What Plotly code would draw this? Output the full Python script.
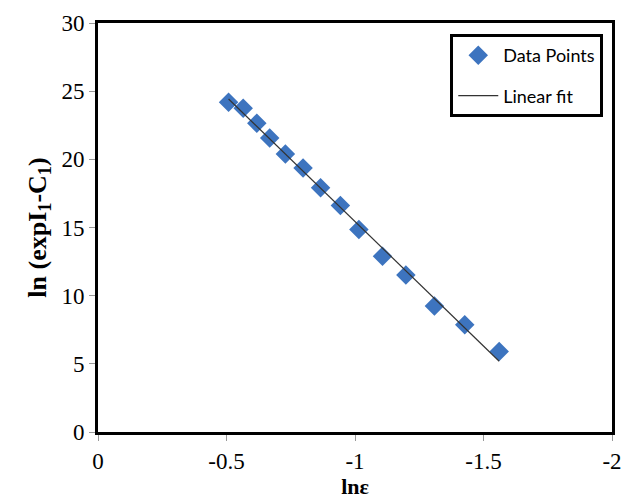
import numpy as np
import plotly.graph_objects as go

ln_eps = [-0.508, -0.565, -0.618, -0.668, -0.729, -0.798, -0.866, -0.943, -1.015, -1.107, -1.198, -1.309, -1.427, -1.561]
ln_val = [24.18, 23.74, 22.65, 21.56, 20.39, 19.37, 17.92, 16.61, 14.86, 12.89, 11.51, 9.25, 7.87, 5.90]

x_ticks = [0, -0.5, -1, -1.5, -2]
y_ticks = [0, 5, 10, 15, 20, 25, 30]

coef = np.polyfit(ln_eps, ln_val, 1)
fit_x = np.array([min(ln_eps), max(ln_eps)])
fit_y = np.polyval(coef, fit_x)

fig = go.Figure()
fig.add_trace(go.Scatter(
    x=ln_eps, y=ln_val, mode="markers", name="Data Points", legendgroup="a",
    marker=dict(symbol="diamond", size=15, color="#3D74BF"),
))
fig.add_trace(go.Scatter(
    x=fit_x, y=fit_y, mode="lines", name="Linear fit", legendgroup="b",
    line=dict(color="#333333", width=1.2),
))

axis_common = dict(
    showgrid=False, zeroline=False, showline=True, linecolor="black",
    linewidth=3, mirror=True, ticks="outside", tickcolor="#999999",
    ticklen=6, tickwidth=1,
    tickfont=dict(family="Liberation Serif", size=23, color="black"),
)

fig.update_layout(
    width=633, height=504,
    margin=dict(l=98, r=11, t=23, b=69),
    paper_bgcolor="white", plot_bgcolor="white",
    xaxis=dict(range=[0, -2], tickvals=x_ticks, ticktext=[str(v) for v in x_ticks],
               title=dict(text="<b>lnε</b>", font=dict(family="Liberation Serif", size=22, color="black"),
                          standoff=4),
               **axis_common),
    yaxis=dict(range=[0, 30], tickvals=y_ticks,
               title=dict(text="<b>ln (expI<sub>1</sub>-C<sub>1</sub>)</b>",
                          font=dict(family="Liberation Serif", size=26, color="black"), standoff=8),
               **axis_common),
    legend=dict(x=0.983, y=0.973, xanchor="right", yanchor="top",
                bordercolor="black", borderwidth=3, bgcolor="white",
                font=dict(family="Lato", size=18, color="black"),
                itemwidth=40, tracegroupgap=14),
    showlegend=True,
)

fig.write_html("out.html")
